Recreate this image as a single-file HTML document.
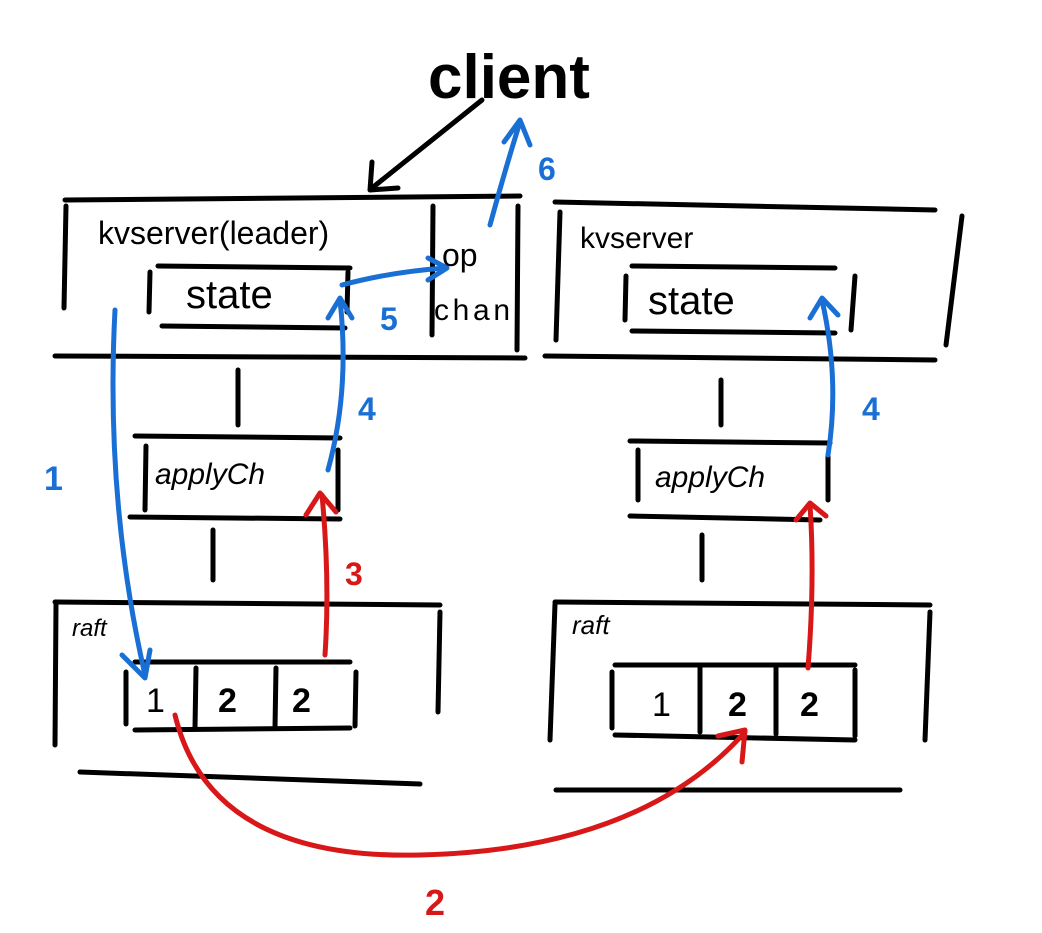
<!DOCTYPE html>
<html><head><meta charset="utf-8"><style>
html,body{margin:0;padding:0;background:#fff;}
svg{display:block}
text{font-family:"Liberation Sans",sans-serif;}
</style></head><body>
<svg width="1042" height="933" viewBox="0 0 1042 933" xmlns="http://www.w3.org/2000/svg">
<g fill="none" stroke="#000" stroke-width="5" stroke-linecap="round" stroke-linejoin="round">
<path d="M482 100 L372 188"/><path d="M372 162 L370 190 L398 188"/>
<path d="M65 200 L520 196"/><path d="M66 206 L64 308"/><path d="M433 206 L432 335"/><path d="M518 206 L517 350"/>
<path d="M55 356 L525 358"/>
<path d="M158 266 L350 268"/><path d="M162 326 L345 328"/><path d="M150 272 L149 312"/><path d="M348 272 L347 312"/>
<path d="M238 370 L238 425"/>
<path d="M135 436 L340 438"/><path d="M130 517 L340 519"/><path d="M146 446 L145 510"/><path d="M338 450 L338 510"/>
<path d="M213 530 L213 580"/>
<path d="M55 602 L440 605"/><path d="M56 604 L55 745"/><path d="M440 612 L438 712"/><path d="M80 772 L420 784"/>
<path d="M135 662 L350 662"/><path d="M135 730 L350 728"/>
<path d="M126 672 L126 724"/><path d="M196 668 L195 728"/><path d="M276 668 L275 728"/><path d="M356 672 L355 726"/>
<path d="M555 202 L935 210"/><path d="M560 212 L556 340"/><path d="M962 216 L946 345"/><path d="M545 356 L935 360"/>
<path d="M632 266 L835 268"/><path d="M632 331 L835 333"/><path d="M626 276 L625 320"/><path d="M855 276 L851 330"/>
<path d="M721 380 L721 425"/>
<path d="M630 441 L830 443"/><path d="M630 516 L820 520"/><path d="M638 450 L638 500"/><path d="M828 455 L828 500"/>
<path d="M702 535 L702 580"/>
<path d="M555 602 L930 605"/><path d="M555 604 L550 740"/><path d="M930 612 L925 740"/><path d="M556 790 L900 790"/>
<path d="M615 665 L855 665"/><path d="M615 735 L855 740"/>
<path d="M612 672 L612 728"/><path d="M700 668 L700 732"/><path d="M776 668 L776 734"/><path d="M855 670 L855 736"/>
</g>
<g fill="none" stroke="#1a6fd4" stroke-width="5" stroke-linecap="round" stroke-linejoin="round">
<path d="M490 225 Q505 170 520 122"/><path d="M504 142 L520 120 L530 145"/>
<path d="M115 310 Q105 500 145 675"/><path d="M122 655 L145 678 L150 650"/>
<path d="M328 470 Q350 390 340 300"/><path d="M328 318 L340 298 L352 318"/>
<path d="M342 285 Q390 272 445 268"/><path d="M428 258 L447 268 L428 280"/>
<path d="M828 455 Q840 380 822 300"/><path d="M810 318 L822 298 L838 315"/>
</g>
<g fill="none" stroke="#d81818" stroke-width="5" stroke-linecap="round" stroke-linejoin="round">
<path d="M325 655 Q330 580 322 495"/><path d="M306 515 L320 493 L336 512"/>
<path d="M175 715 Q210 860 420 855 Q640 850 745 732"/><path d="M718 736 L745 730 L742 762"/>
<path d="M808 668 Q815 580 810 505"/><path d="M796 520 L810 503 L826 516"/>
</g>
<g font-family="Liberation Sans,sans-serif">
<text x="428" y="98" font-size="62" font-weight="bold">client</text>
<text x="98" y="244" font-size="32">kvserver(leader)</text>
<text x="442" y="266" font-size="32">op</text>
<text x="434" y="320" font-size="30" textLength="76">chan</text>
<text x="186" y="308" font-size="40">state</text>
<text x="155" y="484" font-size="30" font-style="italic">applyCh</text>
<text x="72" y="636" font-size="24" font-style="italic">raft</text>
<text x="146" y="712" font-size="34">1</text>
<text x="218" y="712" font-size="34" font-weight="bold">2</text>
<text x="292" y="712" font-size="34" font-weight="bold">2</text>
<text x="580" y="248" font-size="30">kvserver</text>
<text x="648" y="314" font-size="40">state</text>
<text x="655" y="487" font-size="30" font-style="italic">applyCh</text>
<text x="572" y="634" font-size="26" font-style="italic">raft</text>
<text x="652" y="716" font-size="34">1</text>
<text x="728" y="716" font-size="34" font-weight="bold">2</text>
<text x="800" y="716" font-size="34" font-weight="bold">2</text>
<g fill="#1a6fd4" font-weight="bold">
<text x="538" y="180" font-size="32">6</text>
<text x="44" y="490" font-size="34">1</text>
<text x="358" y="420" font-size="32">4</text>
<text x="380" y="330" font-size="32">5</text>
<text x="862" y="420" font-size="32">4</text>
</g>
<g fill="#d81818" font-weight="bold">
<text x="345" y="585" font-size="32">3</text>
<text x="425" y="915" font-size="36">2</text>
</g>
</g>
</svg>
</body></html>
